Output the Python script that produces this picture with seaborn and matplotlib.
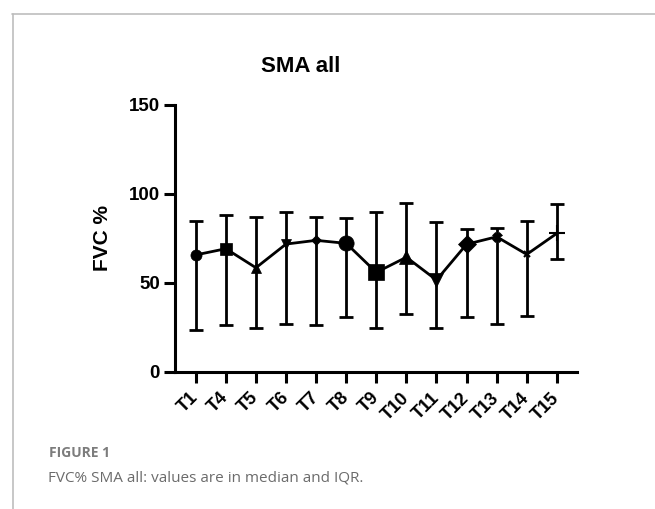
import matplotlib
matplotlib.use("Agg")
import matplotlib.pyplot as plt
import seaborn as sns
import numpy as np
import pandas as pd
from matplotlib.lines import Line2D

sns.set_theme(style="ticks")
plt.rcParams['font.family'] = ['Liberation Sans', 'DejaVu Sans']
plt.rcParams['text.color'] = 'black'
plt.rcParams['axes.labelcolor'] = 'black'

# ---- data (median and IQR) ----
timepoints = ["T1", "T4", "T5", "T6", "T7", "T8", "T9", "T10", "T11", "T12", "T13", "T14", "T15"]
median = [65.6, 69.1, 58.4, 71.7, 73.8, 72.1, 55.8, 64.3, 51.5, 71.6, 75.8, 65.9, 77.7]
q1 = [23.6, 26.0, 24.6, 27.0, 26.0, 30.6, 24.6, 32.6, 24.7, 30.9, 26.8, 31.3, 63.3]
q3 = [84.8, 88.0, 86.9, 89.5, 86.9, 86.5, 89.9, 94.7, 84.1, 80.2, 80.9, 84.7, 94.0]
markers = ["o", "s", "^", "v", "D", "o", "s", "^", "v", "D", "X", "x", "+"]
marker_sizes = [8, 8, 7, 7, 5, 11, 11, 10, 10, 9, 7, 5, 12]

df = pd.DataFrame({"pos": np.arange(len(timepoints)), "tp": timepoints,
                   "median": median, "q1": q1, "q3": q3})

fig = plt.figure(figsize=(6.55, 5.09), dpi=100)
ax = fig.add_axes([175 / 655, 1 - 371.7 / 509, (577 - 175) / 655, (371.7 - 104.7) / 509])

lw = 2.0
ax.errorbar(df["pos"], df["median"],
            yerr=[df["median"] - df["q1"], df["q3"] - df["median"]],
            fmt="none", ecolor="black", elinewidth=lw, capsize=5, capthick=lw, zorder=2)
sns.lineplot(data=df, x="pos", y="median", color="black", linewidth=lw, ax=ax,
             sort=False, zorder=3)
for i, row in df.iterrows():
    ax.plot(row["pos"], row["median"], marker=markers[i], markersize=marker_sizes[i],
            color="black", markeredgewidth=1.5 if markers[i] in ("x", "+") else 0.5,
            linestyle="none", zorder=4)

ax.set_xlim(-0.69, 12.67)
ax.set_ylim(0, 150)
ax.set_yticks([0, 50, 100, 150])
ax.set_xticks(df["pos"])
ax.set_xticklabels(timepoints, rotation=45, ha="right", va="center", rotation_mode="anchor",
                   fontsize=13, fontweight="bold", color="black")
for lab in ax.get_yticklabels():
    lab.set_fontsize(13.5)
    lab.set_fontweight("bold")
    lab.set_color("black")
ax.set_xlabel("")
ax.set_ylabel("FVC %", fontsize=15, fontweight="bold", labelpad=12, color="black")
fig.text(301 / 655, 1 - 72 / 509, "SMA all", fontsize=16, fontweight="bold",
         color="black", ha="center", va="baseline")

for s in ["top", "right"]:
    ax.spines[s].set_visible(False)
for s in ["left", "bottom"]:
    ax.spines[s].set_linewidth(2.2)
    ax.spines[s].set_color("black")
ax.tick_params(axis="both", length=8, width=2.2, color="black", labelcolor="black", pad=3)
ax.tick_params(axis="x", pad=9)
ax.set_facecolor("white")

# frame decoration
fig.add_artist(Line2D([12 / 655, 1], [1 - 13.5 / 509, 1 - 13.5 / 509], color="#bdbdbd", linewidth=1.2))
fig.add_artist(Line2D([13 / 655, 13 / 655], [0, 1 - 13.5 / 509], color="#bdbdbd", linewidth=1.2))

fig.text(49 / 655, 1 - 457 / 509, "FIGURE 1", fontsize=10, fontweight="bold",
         color="#7c7c7c", family=["Open Sans", "DejaVu Sans"], va="baseline")
fig.text(48 / 655, 1 - 481 / 509, "FVC% SMA all: values are in median and IQR.", fontsize=11,
         color="#6b6b6b", family=["Open Sans", "DejaVu Sans"], va="baseline")

fig.savefig("out.png", dpi=100, facecolor="white")
